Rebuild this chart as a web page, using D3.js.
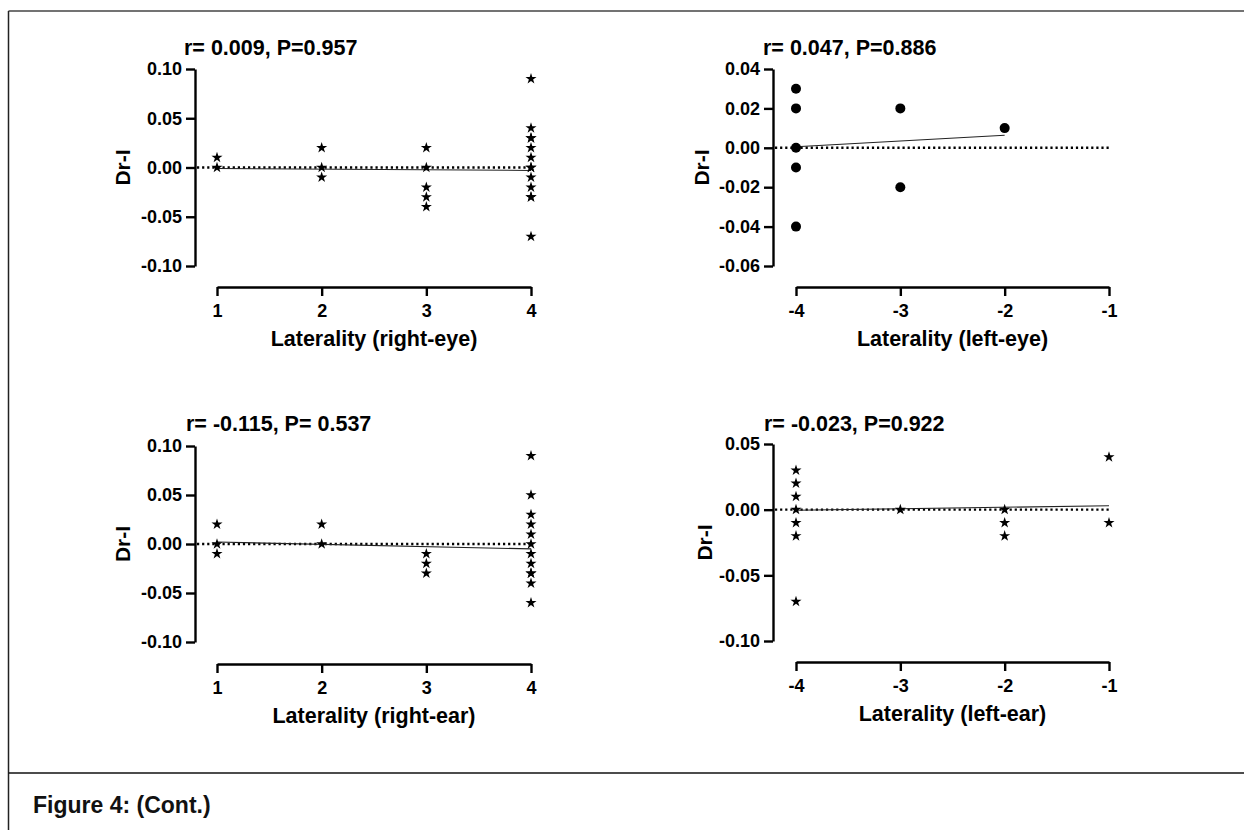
<!DOCTYPE html>
<html>
<head>
<meta charset="utf-8">
<script src="https://cdn.jsdelivr.net/npm/d3@7"></script>
<style>
  html, body { margin: 0; padding: 0; background: #fff; }
  svg { display: block; font-family: "Liberation Sans", Arial, sans-serif; font-weight: bold; }
</style>
</head>
<body>
<svg id="chart" width="1244" height="830"></svg>
<script>
// ---------- data ----------
const titles = ["r= 0.009, P=0.957", "r= 0.047, P=0.886", "r= -0.115, P= 0.537", "r= -0.023, P=0.922"];
const xLabels = ["Laterality (right-eye)", "Laterality (left-eye)", "Laterality (right-ear)", "Laterality (left-ear)"];
const yLabel = "Dr-I";
const caption = "Figure 4: (Cont.)";

// panel 1: right-eye
const p1X = [1, 1, 2, 2, 2, 3, 3, 3, 3, 3, 4, 4, 4, 4, 4, 4, 4, 4, 4, 4, 4, 4, 4];
const p1Y = [0.01, 0.00, 0.02, 0.00, -0.01, 0.02, 0.00, -0.02, -0.03, -0.04, 0.09, 0.04, 0.03, 0.03, 0.02, 0.01, 0.00, 0.00, -0.01, -0.02, -0.03, -0.03, -0.07];
const p1Fit = [[1, -0.001], [4, -0.003]];
const p1XTicks = [1, 2, 3, 4];
const p1YTicks = [0.10, 0.05, 0.00, -0.05, -0.10];

// panel 2: left-eye
const p2X = [-4, -4, -4, -4, -4, -3, -3, -2];
const p2Y = [0.03, 0.02, 0.00, -0.01, -0.04, 0.02, -0.02, 0.01];
const p2Fit = [[-4, 0.0005], [-2, 0.0064]];
const p2XTicks = [-4, -3, -2, -1];
const p2YTicks = [0.04, 0.02, 0.00, -0.02, -0.04, -0.06];

// panel 3: right-ear
const p3X = [1, 1, 1, 2, 2, 3, 3, 3, 4, 4, 4, 4, 4, 4, 4, 4, 4, 4, 4, 4];
const p3Y = [0.02, 0.00, -0.01, 0.02, 0.00, -0.01, -0.02, -0.03, 0.09, 0.05, 0.03, 0.02, 0.01, 0.00, -0.01, -0.02, -0.03, -0.03, -0.04, -0.06];
const p3Fit = [[1, 0.002], [4, -0.005]];
const p3XTicks = [1, 2, 3, 4];
const p3YTicks = [0.10, 0.05, 0.00, -0.05, -0.10];

// panel 4: left-ear
const p4X = [-4, -4, -4, -4, -4, -4, -4, -3, -2, -2, -2, -1, -1];
const p4Y = [0.03, 0.02, 0.01, 0.00, -0.01, -0.02, -0.07, 0.00, 0.00, -0.01, -0.02, 0.04, -0.01];
const p4Fit = [[-4, -0.0005], [-1, 0.003]];
const p4XTicks = [-4, -3, -2, -1];
const p4YTicks = [0.05, 0.00, -0.05, -0.10];

// ---------- layout ----------
const svg = d3.select("#chart");
const FONT = "Liberation Sans, Arial, sans-serif";

// frame
svg.append("line").attr("x1", 8.5).attr("x2", 1244).attr("y1", 11).attr("y2", 11).attr("stroke", "#444").attr("stroke-width", 1.5);
svg.append("line").attr("x1", 8.5).attr("x2", 8.5).attr("y1", 11).attr("y2", 830).attr("stroke", "#222").attr("stroke-width", 1.5);
svg.append("line").attr("x1", 8.5).attr("x2", 1244).attr("y1", 773).attr("y2", 773).attr("stroke", "#111").attr("stroke-width", 1.5);
svg.append("text").attr("x", 33).attr("y", 813).attr("font-size", 23).attr("fill", "#111").text(caption);

const panels = [
  { x: p1X, y: p1Y, fit: p1Fit, xt: p1XTicks, yt: p1YTicks, xd: [1, 4], yd: [-0.10, 0.10], xr: [217, 531], yr: [266, 69], ax: 195, ay: 287, tx: 184, ty: 55, ylx: 130, sym: "star" },
  { x: p2X, y: p2Y, fit: p2Fit, xt: p2XTicks, yt: p2YTicks, xd: [-4, -1], yd: [-0.06, 0.04], xr: [796, 1109], yr: [266, 69], ax: 773, ay: 287, tx: 763, ty: 55, ylx: 709, sym: "circle" },
  { x: p3X, y: p3Y, fit: p3Fit, xt: p3XTicks, yt: p3YTicks, xd: [1, 4], yd: [-0.10, 0.10], xr: [217, 531], yr: [642, 446], ax: 195, ay: 664, tx: 186, ty: 431, ylx: 130, sym: "star" },
  { x: p4X, y: p4Y, fit: p4Fit, xt: p4XTicks, yt: p4YTicks, xd: [-4, -1], yd: [-0.10, 0.05], xr: [796, 1109], yr: [641, 444], ax: 773, ay: 662, tx: 764, ty: 431, ylx: 712, sym: "star" }
];

panels.forEach((p, i) => {
  const xs = d3.scaleLinear().domain(p.xd).range(p.xr);
  const ys = d3.scaleLinear().domain(p.yd).range(p.yr);
  const g = svg.append("g");

  // y axis
  const yAxis = d3.axisLeft(ys).tickValues(p.yt).tickFormat(d3.format(".2f")).tickSize(9).tickSizeOuter(0).tickPadding(4);
  const ya = g.append("g").attr("transform", `translate(${p.ax},0)`).call(yAxis);
  ya.select(".domain").attr("stroke", "#000").attr("stroke-width", 2.4);
  ya.selectAll(".tick line").attr("stroke", "#000").attr("stroke-width", 2.4);
  ya.selectAll(".tick text").attr("font-size", 18).attr("font-family", FONT).attr("font-weight", "bold").attr("fill", "#000")
    .text(d => d3.format(".2f")(d).replace("−", "-"));

  // x axis
  const xAxis = d3.axisBottom(xs).tickValues(p.xt).tickFormat(d => String(d)).tickSize(9).tickSizeOuter(0).tickPadding(8);
  const xa = g.append("g").attr("transform", `translate(0,${p.ay})`).call(xAxis);
  xa.select(".domain").attr("stroke", "#000").attr("stroke-width", 2.4);
  xa.selectAll(".tick line").attr("stroke", "#000").attr("stroke-width", 2.4);
  xa.selectAll(".tick text").attr("font-size", 18).attr("font-family", FONT).attr("font-weight", "bold").attr("fill", "#000");

  // zero dotted line
  g.append("line").attr("x1", p.ax + 2).attr("x2", xs(p.xd[1])).attr("y1", ys(0)).attr("y2", ys(0))
    .attr("stroke", "#000").attr("stroke-width", 2.4).attr("stroke-dasharray", "2.2,2.9");

  // regression line
  g.append("line").attr("x1", xs(p.fit[0][0])).attr("y1", ys(p.fit[0][1])).attr("x2", xs(p.fit[1][0])).attr("y2", ys(p.fit[1][1]))
    .attr("stroke", "#222").attr("stroke-width", 1.1);

  // points
  const pts = p.x.map((v, k) => [v, p.y[k]]);
  if (p.sym === "circle") {
    g.selectAll("circle.pt").data(pts).join("circle").attr("class", "pt")
      .attr("cx", d => xs(d[0])).attr("cy", d => ys(d[1])).attr("r", 5).attr("fill", "#000");
  } else {
    const star = d3.symbol().type(d3.symbolStar).size(38);
    g.selectAll("path.pt").data(pts).join("path").attr("class", "pt")
      .attr("transform", d => `translate(${xs(d[0])},${ys(d[1])})`).attr("d", star).attr("fill", "#000");
  }

  // title
  g.append("text").attr("x", p.tx).attr("y", p.ty).attr("font-size", 21.5).attr("fill", "#000").text(titles[i]);

  // x label
  g.append("text").attr("x", (p.xr[0] + p.xr[1]) / 2).attr("y", p.ay + 59).attr("text-anchor", "middle")
    .attr("font-size", 21.5).attr("fill", "#000").text(xLabels[i]);

  // y label
  const yc = (p.yr[0] + p.yr[1]) / 2;
  g.append("text").attr("transform", `translate(${p.ylx},${yc}) rotate(-90)`).attr("text-anchor", "middle")
    .attr("font-size", 21).attr("fill", "#000").text(yLabel);
});
</script>
</body>
</html>
